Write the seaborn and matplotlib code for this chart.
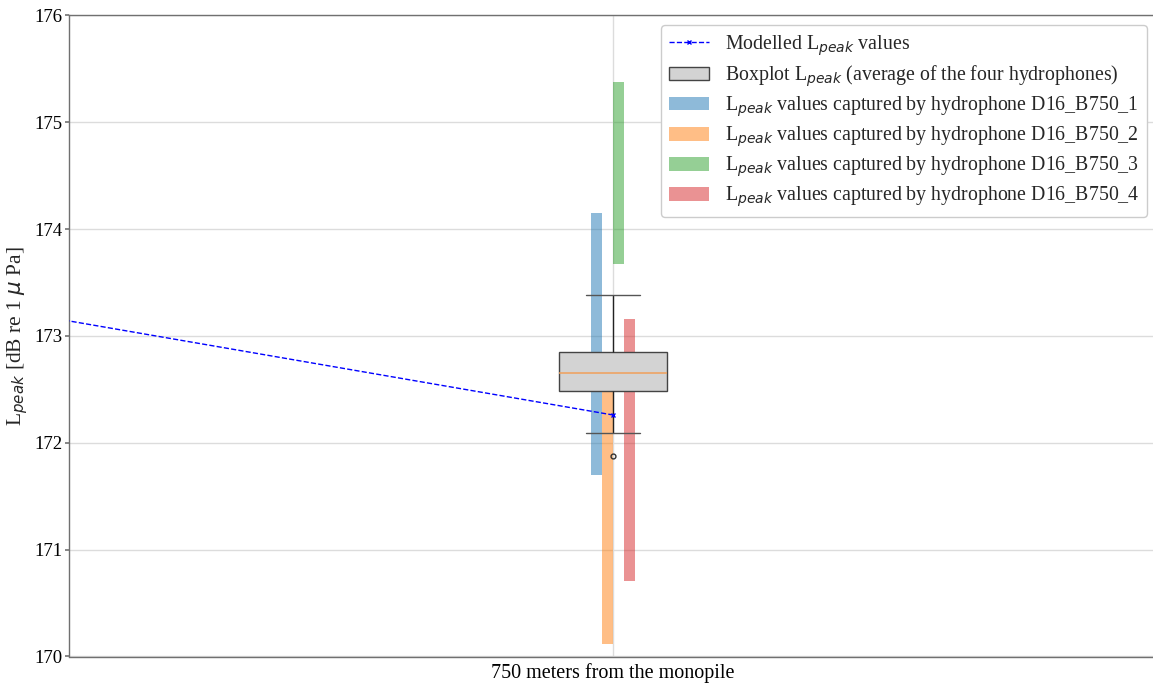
import numpy as np
import pandas as pd
import matplotlib
matplotlib.use("Agg")
import matplotlib.pyplot as plt
from matplotlib.lines import Line2D
from matplotlib.patches import Patch
import seaborn as sns

# Distances (categorical axis); only the 750 m station is in view
distances = ["500 meters from the monopile", "750 meters from the monopile"]

# Modelled peak level at each distance
modelled_lpeak = [174.02, 172.26]

# Average of the four hydrophones per event at 750 m
avg_lpeak_750 = [171.88, 172.09, 172.48, 172.55, 172.65, 172.75, 172.85, 173.10, 173.38]

# Range (min, max) of values captured by each hydrophone at 750 m
hydrophones = ["D16_B750_1", "D16_B750_2", "D16_B750_3", "D16_B750_4"]
hydro_min = [171.70, 170.12, 173.67, 170.71]
hydro_max = [174.15, 172.60, 175.38, 173.16]

yticks = [170, 171, 172, 173, 174, 175, 176]

sns.set_theme(style="whitegrid")
plt.rcParams["font.family"] = ["Liberation Serif", "DejaVu Serif"]
plt.rcParams["mathtext.fontset"] = "dejavusans"

fig = plt.figure(figsize=(11.53, 6.84), dpi=100)
ax = fig.add_axes([69 / 1153, 1 - 656.5 / 684, 1088 / 1153, 641.2 / 684])

df = pd.DataFrame({"distance": [distances[1]] * len(avg_lpeak_750),
                   "lpeak": avg_lpeak_750})

sns.boxplot(data=df, x="distance", y="lpeak", order=distances, ax=ax,
            width=0.1, color="lightgray", saturation=1, linecolor="#444444",
            linewidth=1, capwidths=0.05, fliersize=3.5,
            medianprops=dict(color="#f0a05a", linewidth=1.1, zorder=4),
            flierprops=dict(marker="o", markerfacecolor="none",
                            markeredgecolor="#333333", zorder=4),
            boxprops=dict(zorder=3), whiskerprops=dict(zorder=3, color="#222222"),
            capprops=dict(zorder=3, color="#555555"))

# Floating bars spanning each hydrophone's range
pos = distances.index("750 meters from the monopile")
bar_w = 0.01
colors = ["#1f77b4", "#ff7f0e", "#2ca02c", "#d62728"]
for i, (lo, hi) in enumerate(zip(hydro_min, hydro_max)):
    ax.bar(pos + (i - 1.5) * bar_w, hi - lo, bottom=lo, width=bar_w,
           color=colors[i], alpha=0.5, zorder=1.5, linewidth=0)

# Modelled values
ax.plot(range(len(distances)), modelled_lpeak, color="blue", linestyle="--",
        linewidth=1, marker="x", markersize=3, zorder=4)

ax.set_xlim(pos - 0.5, pos + 0.5)
ax.set_ylim(170, 176)
ax.set_yticks(yticks)
ax.set_xlabel("")
ax.set_ylabel(r"L$_{peak}$ [dB re 1 $\mu$ Pa]", fontsize=15.5)
ax.yaxis.set_label_coords(-0.036, 0.5)
ax.tick_params(axis="x", labelsize=14.5, colors="black", length=0, pad=5)
ax.tick_params(axis="y", labelsize=13.5, colors="black", length=3,
               color="#777777", left=True, pad=2)

ax.grid(True, axis="both", color="#dcdcdc", linewidth=1)
ax.set_axisbelow(True)
for side in ["left", "bottom", "top", "right"]:
    ax.spines[side].set_color("#707070")
    ax.spines[side].set_linewidth(1)

handles = [
    Line2D([], [], color="blue", linestyle="--", linewidth=1, marker="x",
           markersize=3),
    Patch(facecolor="lightgray", edgecolor="#444444", linewidth=1),
] + [Patch(facecolor=c, alpha=0.5, linewidth=0) for c in colors]
labels = [r"Modelled L$_{peak}$ values",
          r"Boxplot L$_{peak}$ (average of the four hydrophones)"] + \
         [r"L$_{peak}$ values captured by hydrophone " + h for h in hydrophones]
leg = ax.legend(handles, labels, loc="upper right", fontsize=14.3,
                labelspacing=0.28, handlelength=2.0, handletextpad=0.8,
                frameon=True, framealpha=1, edgecolor="#cccccc")

fig.savefig("out.png", dpi=100)
